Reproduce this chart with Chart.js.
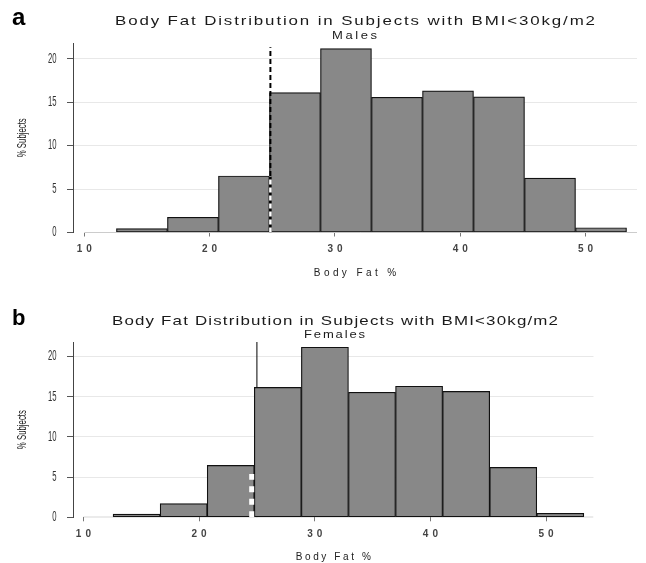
<!DOCTYPE html>
<html>
<head>
<meta charset="utf-8">
<script src="https://cdn.jsdelivr.net/npm/chart.js@4.4.1/dist/chart.umd.min.js"></script>
<style>
  body { margin: 0; background: #fff; }
  #wrap { position: relative; width: 646px; height: 563px; overflow: hidden; font-family: "Liberation Sans", Arial, sans-serif; color: #1a1a1a; }
  canvas { position: absolute; left: 0; }
  #chartA { top: 0; }
  #chartB { top: 280px; }
  .lbl { position: absolute; white-space: nowrap; transform-origin: 0 0; }
  .panel { font-weight: bold; color: #000; }
</style>
</head>
<body>
<div id="wrap">
  <canvas id="chartA" width="646" height="280"></canvas>
  <canvas id="chartB" width="646" height="283"></canvas>
  <div class="lbl panel" style="left:12px;top:5px;font-size:24px;line-height:24px">a</div>
  <div class="lbl" id="titleA" style="top:14px;font-size:13px;line-height:13px">Body Fat Distribution in Subjects with BMI&lt;30kg/m2</div>
  <div class="lbl" id="subA" style="top:30.5px;font-size:10px;line-height:10px">Males</div>
  <div class="lbl panel" style="left:12px;top:307px;font-size:22px;line-height:22px">b</div>
  <div class="lbl" id="titleB" style="top:314px;font-size:13px;line-height:13px">Body Fat Distribution in Subjects with BMI&lt;30kg/m2</div>
  <div class="lbl" id="subB" style="top:330px;font-size:10px;line-height:10px">Females</div>
</div>
<script>
// bin midpoints (body fat %) and share of subjects per bin
const binCenters = [14.6, 18.67, 22.74, 26.81, 30.88, 34.95, 39.02, 43.09, 47.16, 51.23];
const malesPct = [0.45, 1.75, 6.5, 16.1, 21.15, 15.55, 16.3, 15.6, 6.25, 0.55];
const femalesPct = [0.4, 1.7, 6.45, 16.15, 21.15, 15.55, 16.3, 15.65, 6.2, 0.5];
const xTicks = [10, 20, 30, 40, 50];
const yTicks = [0, 5, 10, 15, 20];
const cutoffMales = 24.85;
const cutoffFemales = 25.0;
const cutoffFemalesMark = 24.55;
const lineTopMales = 21.3;
const whiteTopFemales = 5.4;
const xMin = 9.1;
const xMax = 54.1;

function fitText(id, width, cx, stretch) {
  const el = document.getElementById(id);
  const n = el.textContent.length;
  el.style.transform = "scaleX(" + stretch + ")";
  el.style.letterSpacing = "0px";
  const w0 = el.getBoundingClientRect().width;
  const s = (width - w0) / (n - 1) / stretch;
  el.style.letterSpacing = s + "px";
  el.style.left = (cx - width / 2) + "px";
}

fitText("titleA", 480, 355, 1.3);
fitText("subA", 45, 354.5, 1.3);
fitText("titleB", 446, 334.5, 1.3);
fitText("subB", 61, 334, 1.3);

function wrap(scale, name, setup) {
  const orig = scale[name].bind(scale);
  scale[name] = function (...args) {
    const ctx = scale.ctx;
    ctx.save();
    setup(ctx, scale);
    orig(...args);
    ctx.restore();
  };
}

// condensed y labels and spaced x labels, like the original plot
const axisStyle = {
  id: "axisStyle",
  beforeDraw(chart) {
    const x = chart.scales.x;
    const y = chart.scales.y;
    if (x._styled) return;
    x._styled = true;
    const sp = chart.options.plugins.axisStyle;
    wrap(x, "drawLabels", ctx => {
      ctx.letterSpacing = sp.tickSpacing + "px";
      ctx.translate(sp.tickSpacing / 2, 0);
    });
    wrap(x, "drawTitle", ctx => {
      ctx.letterSpacing = sp.titleSpacing + "px";
      ctx.translate(sp.titleSpacing / 2, 0);
    });
    wrap(y, "drawLabels", (ctx, s) => {
      const ax = s.right - s.options.grid.tickLength - s.options.ticks.padding;
      ctx.translate(ax, 0);
      ctx.scale(0.55, 1);
      ctx.translate(-ax, 0);
    });
    wrap(y, "drawTitle", (ctx, s) => {
      const cy = (s.top + s.bottom) / 2;
      ctx.translate(0, cy);
      ctx.scale(1, 0.6);
      ctx.translate(0, -cy);
    });
  }
};

function segment(x0, y0, x1, y1, color, width, dash, order) {
  return {
    type: "line",
    data: [{ x: x0, y: y0 }, { x: x1, y: y1 }],
    borderColor: color,
    borderWidth: width,
    borderDash: dash,
    borderCapStyle: "butt",
    pointRadius: 0,
    fill: false,
    order
  };
}

function makeChart(id, values, extra, lay) {
  const bars = {
    type: "bar",
    data: binCenters.map((x, i) => ({ x, y: values[i] })),
    backgroundColor: "#888888",
    borderColor: "#111111",
    borderWidth: 1.2,
    borderSkipped: false,
    barPercentage: 1,
    categoryPercentage: 1,
    order: 5
  };
  // x axis line starts at the first tick, R style
  const axisLine = segment(xTicks[0], 0, xMax, 0, "#999", 1, [], 7);

  return new Chart(document.getElementById(id), {
    data: { datasets: [bars, axisLine, ...extra] },
    plugins: [axisStyle],
    options: {
      responsive: false,
      animation: false,
      layout: { padding: { top: lay.top, right: lay.right, left: 0, bottom: 0 } },
      plugins: {
        legend: { display: false },
        tooltip: { enabled: false },
        axisStyle: { tickSpacing: 4, titleSpacing: lay.titleSpacing }
      },
      scales: {
        x: {
          type: "linear",
          min: xMin,
          max: xMax,
          offset: false,
          afterFit: s => { s.height = lay.xHeight; },
          afterBuildTicks: s => { s.ticks = xTicks.map(v => ({ value: v })); },
          ticks: {
            padding: lay.xPad,
            color: "#444",
            font: { family: "Liberation Sans", size: 10, weight: "bold" }
          },
          grid: { offset: false, drawOnChartArea: false, tickLength: 4, tickColor: "#777" },
          border: { display: false },
          title: {
            display: true,
            text: "Body Fat %",
            color: "#222",
            font: { family: "Liberation Sans", size: 10 },
            padding: { top: 0, bottom: lay.titleBottom }
          }
        },
        y: {
          min: 0,
          max: 21.8,
          afterFit: s => { s.width = 73; },
          afterBuildTicks: s => { s.ticks = yTicks.map(v => ({ value: v })); },
          ticks: {
            padding: 10.5,
            color: "#333",
            font: { family: "Liberation Sans", size: 14 }
          },
          grid: {
            color: c => (c.tick && c.tick.value === 0 ? "rgba(0,0,0,0)" : "#e8e8e8"),
            tickColor: "#555",
            tickLength: 6
          },
          border: { color: "#444", width: 1 },
          title: {
            display: true,
            text: "% Subjects",
            color: "#222",
            font: { family: "Liberation Sans", size: 13 },
            padding: { top: 15, bottom: 0 }
          }
        }
      }
    }
  });
}

makeChart("chartA", malesPct, [
  segment(cutoffMales, 0, cutoffMales, malesPct[2], "#000", 2.5, [], 4),
  segment(cutoffMales, 0, cutoffMales, malesPct[2], "#fff", 2.5, [5, 3], 3),
  segment(cutoffMales, malesPct[2], cutoffMales, lineTopMales, "#000", 2, [5, 3], 2)
], { top: 43, right: 9, xHeight: 47.5, xPad: 6.5, titleBottom: 1, titleSpacing: 3.4 });

makeChart("chartB", femalesPct, [
  segment(cutoffFemales, 0, cutoffFemales, 21.8, "#000", 1, [], 6),
  segment(cutoffFemalesMark, 0, cutoffFemalesMark, whiteTopFemales, "#fff", 5, [6, 6.5], 1)
], { top: 62, right: 52.5, xHeight: 45.7, xPad: 6.7, titleBottom: 0, titleSpacing: 2.6 });
</script>
</body>
</html>
